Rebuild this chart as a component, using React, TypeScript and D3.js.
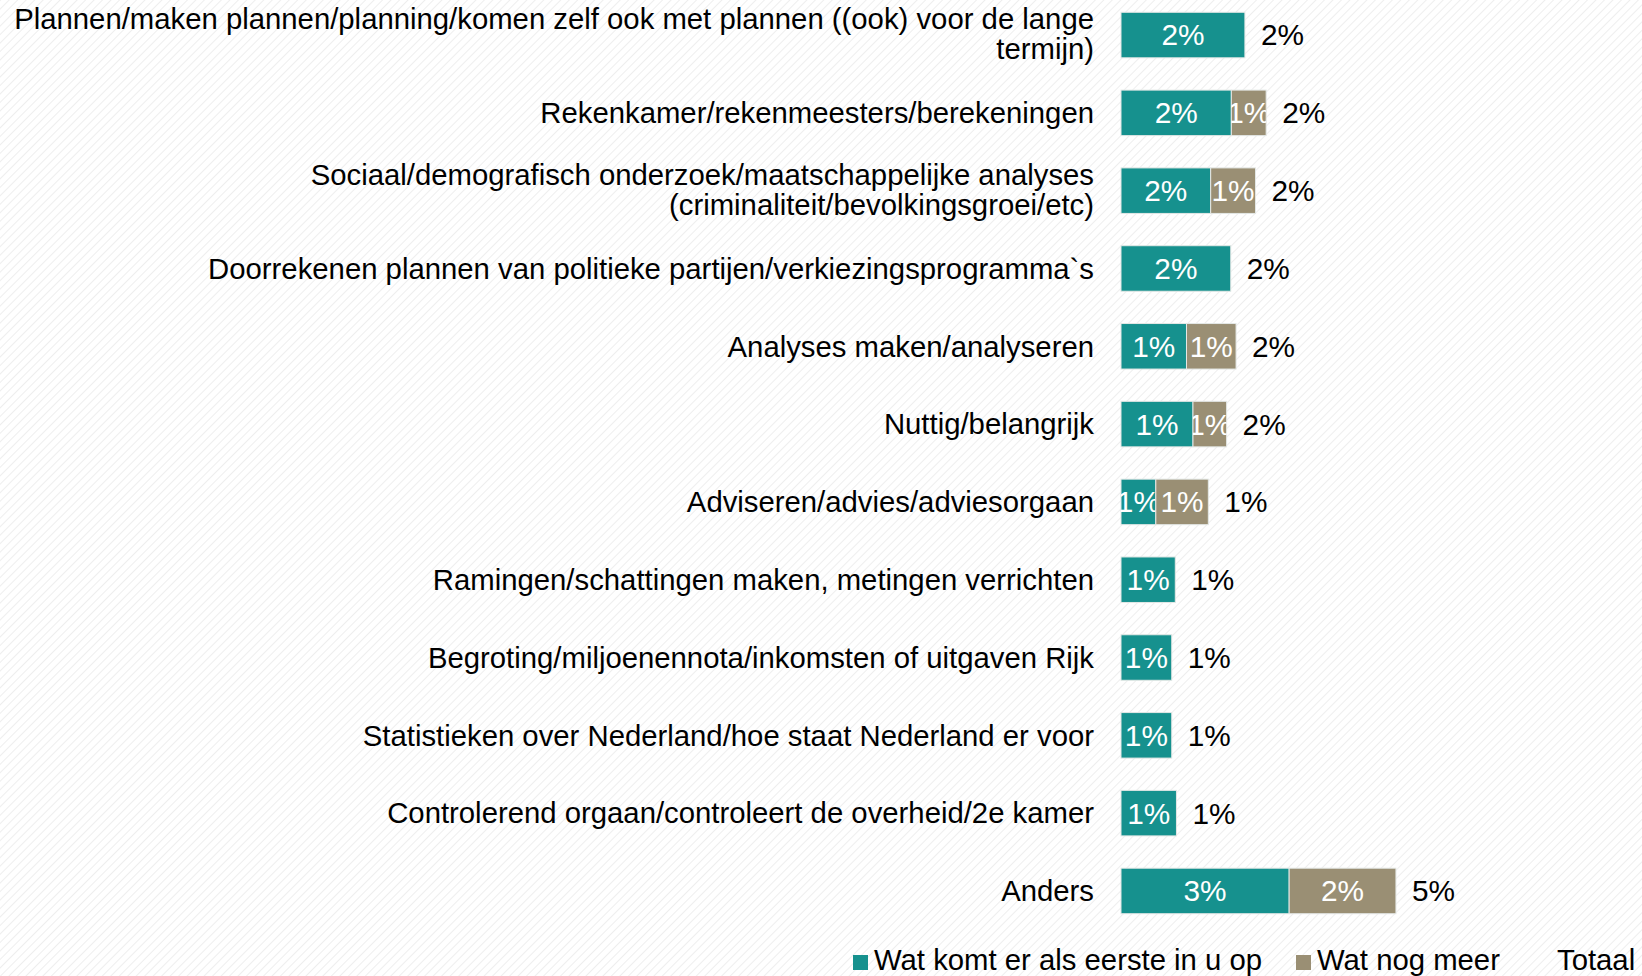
import React from "react";
import { scaleBand, scaleLinear, stack } from "d3";

const categories = [
  "Plannen/maken plannen/planning/komen zelf ook met plannen ((ook) voor de lange|termijn)",
  "Rekenkamer/rekenmeesters/berekeningen",
  "Sociaal/demografisch onderzoek/maatschappelijke analyses|(criminaliteit/bevolkingsgroei/etc)",
  "Doorrekenen plannen van politieke partijen/verkiezingsprogramma`s",
  "Analyses maken/analyseren",
  "Nuttig/belangrijk",
  "Adviseren/advies/adviesorgaan",
  "Ramingen/schattingen maken, metingen verrichten",
  "Begroting/miljoenennota/inkomsten of uitgaven Rijk",
  "Statistieken over Nederland/hoe staat Nederland er voor",
  "Controlerend orgaan/controleert de overheid/2e kamer",
  "Anders",
];

// percentages
const eersteValues = [2.1, 1.87, 1.52, 1.86, 1.11, 1.22, 0.59, 0.92, 0.86, 0.86, 0.94, 2.85];
const meerValues = [0, 0.59, 0.76, 0, 0.84, 0.57, 0.89, 0, 0, 0, 0, 1.81];

const seriesNames = ["Wat komt er als eerste in u op", "Wat nog meer", "Totaal"];
const seriesColors = ["#16918e", "#9a8f74", "none"];

const W = 1642;
const H = 976;
const FONT = "'Liberation Sans', Arial, sans-serif";
const FS = 29.3;

export default function App() {
  const rows = categories.map((c, i) => ({
    cat: c,
    eerste: eersteValues[i],
    meer: meerValues[i],
    total: eersteValues[i] + meerValues[i],
  }));

  const x = scaleLinear().domain([0, 5]).range([1121, 1416]);
  const y = scaleBand<string>().domain(categories).range([-20, 946]).padding(0.415);

  const stacked = stack<any>().keys(["eerste", "meer"])(rows);

  const fmt = (v: number) => `${Math.round(v)}%`;

  const legendX = [853, 1296, 1557];

  return (
    <svg
      width={W}
      height={H}
      style={{ position: "absolute", left: 0, top: 0, display: "block" }}
      fontFamily={FONT}
    >
      <defs>
        <pattern
          id="stripes"
          width="6"
          height="6"
          patternUnits="userSpaceOnUse"
          patternTransform="rotate(45)"
        >
          <rect width="6" height="6" fill="#ffffff" />
          <line x1="0" y1="0" x2="0" y2="6" stroke="#ececec" strokeWidth="1.8" />
        </pattern>
        {stacked.map((s, si) =>
          s.map((d, i) => (
            <clipPath id={`clip-${si}-${i}`} key={`${si}-${i}`}>
              <rect
                x={x(d[0])}
                y={y(categories[i])}
                width={Math.max(0, x(d[1]) - x(d[0]))}
                height={y.bandwidth()}
              />
            </clipPath>
          ))
        )}
      </defs>
      <rect width={W} height={H} fill="url(#stripes)" />

      {/* category labels */}
      {rows.map((r) => {
        const lines = r.cat.split("|");
        const cy = (y(r.cat) as number) + y.bandwidth() / 2 - (lines.length > 1 ? 1 : 0);
        return (
          <text key={r.cat} x={1094} textAnchor="end" fontSize={FS} fill="#000">
            {lines.map((ln, li) => (
              <tspan
                key={li}
                x={1094}
                y={cy + (li - (lines.length - 1) / 2) * 30}
                dy="0.35em"
              >
                {ln}
              </tspan>
            ))}
          </text>
        );
      })}

      {/* bars */}
      {stacked.map((s, si) => (
        <g key={s.key}>
          {s.map((d, i) => {
            const w = x(d[1]) - x(d[0]);
            if (w <= 0) return null;
            return (
              <g key={i}>
                <rect
                  x={x(d[0])}
                  y={y(categories[i])}
                  width={w}
                  height={y.bandwidth()}
                  fill={seriesColors[si]}
                  stroke="#e4e8e6"
                  strokeWidth={1}
                />
                <text
                  x={(x(d[0]) + x(d[1])) / 2}
                  y={(y(categories[i]) as number) + y.bandwidth() / 2}
                  dy="0.35em"
                  textAnchor="middle"
                  fontSize={29.8}
                  fill="#ffffff"
                  clipPath={`url(#clip-${si}-${i})`}
                >
                  {fmt(d[1] - d[0])}
                </text>
              </g>
            );
          })}
        </g>
      ))}

      {/* totals */}
      {rows.map((r) => (
        <text
          key={"t" + r.cat}
          x={x(r.total) + 16}
          y={(y(r.cat) as number) + y.bandwidth() / 2}
          dy="0.35em"
          fontSize={29.8}
          fill="#000"
        >
          {fmt(r.total)}
        </text>
      ))}

      {/* legend */}
      {seriesNames.map((n, i) => (
        <g key={n}>
          {seriesColors[i] !== "none" && (
            <rect x={legendX[i]} y={955} width={15} height={15} fill={seriesColors[i]} />
          )}
          <text x={legendX[i] + (seriesColors[i] !== "none" ? 21 : 0)} y={970} fontSize={FS} fill="#000">
            {n}
          </text>
        </g>
      ))}
    </svg>
  );
}
